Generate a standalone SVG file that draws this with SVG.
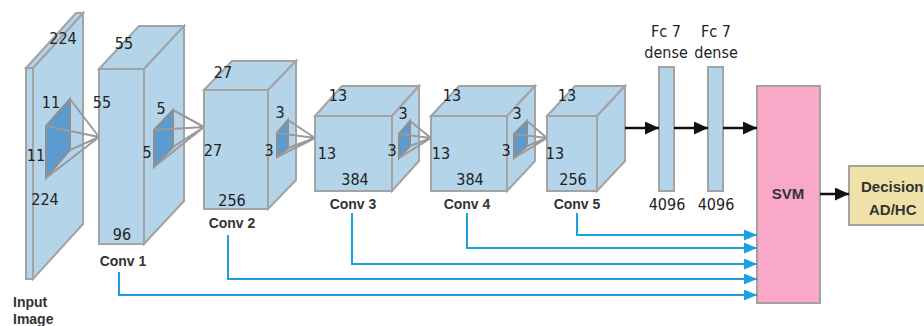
<svg xmlns="http://www.w3.org/2000/svg" width="924" height="326" viewBox="0 0 924 326">
<defs>
<style>
.box{fill:#b4d4ea;stroke:#a3a3a3;stroke-width:2;stroke-linejoin:miter}
.ker{fill:#5b9bd0;stroke:#8e8e8e;stroke-width:2}
.ray{stroke:#9a9a9a;stroke-width:2;fill:none}
.num{font-family:"Liberation Sans Narrow","DejaVu Sans Condensed","Liberation Sans",sans-serif;font-size:16px;fill:#222}
.lbl{font-family:"Liberation Sans",Arial,sans-serif;font-weight:bold;font-size:14px;fill:#333}
.big{font-family:"Liberation Sans",Arial,sans-serif;font-weight:bold;font-size:15px;fill:#333}
.blue{stroke:#1ba1e2;stroke-width:2;fill:none}
.blk{stroke:#111;stroke-width:2.5;fill:none}
</style>
<marker id="ab" markerWidth="13" markerHeight="11" refX="13" refY="5.5" orient="auto" markerUnits="userSpaceOnUse"><path d="M0,0 L13,5.5 L0,11 Z" fill="#1ba1e2"/></marker>
<marker id="ak" markerWidth="14" markerHeight="13" refX="14" refY="6.5" orient="auto" markerUnits="userSpaceOnUse"><path d="M0,0 L14,6.5 L0,13 Z" fill="#111"/></marker>
</defs>
<rect width="924" height="326" fill="#fff"/>

<g id="input">
<polygon class="box" points="33,68 83,13 83,224 33,279"/>
<polygon class="box" points="26,68 76,13 83,13 33,68"/>
<rect class="box" x="26" y="68" width="7" height="211"/>
<polygon class="ker" points="46,126 70,99 70,150 46,178"/>
<path class="ray" d="M70,99 L99,137 M46,126 L99,137 M70,150 L99,137 M46,178 L99,137"/>
<text class="num" x="63" y="44" text-anchor="middle">224</text>
<text class="num" x="51" y="108" text-anchor="middle">11</text>
<text class="num" x="36" y="161" text-anchor="middle">11</text>
<text class="num" x="45" y="205" text-anchor="middle">224</text>
<text class="lbl" x="13" y="307">Input</text>
<text class="lbl" x="13" y="324">Image</text>
</g>

<g id="conv1">
<polygon class="box" points="99,69 139,26 184,26 144,69"/>
<polygon class="box" points="144,69 184,26 184,201 144,244"/>
<rect class="box" x="99" y="69" width="45" height="175"/>
<polygon class="ker" points="154,130 173,110 173,147 154,167"/>
<path class="ray" d="M173,110 L204,127 M154,130 L204,127 M173,147 L204,127 M154,167 L204,127"/>
<text class="num" x="124" y="49" text-anchor="middle">55</text>
<text class="num" x="102" y="108" text-anchor="middle">55</text>
<text class="num" x="161" y="114" text-anchor="middle">5</text>
<text class="num" x="147" y="158" text-anchor="middle">5</text>
<text class="num" x="122" y="240" text-anchor="middle">96</text>
<text class="lbl" x="123" y="266" text-anchor="middle">Conv 1</text>
</g>

<g id="conv2">
<polygon class="box" points="204,90 232,61 296,61 268,90"/>
<polygon class="box" points="268,90 296,61 296,180 268,209"/>
<rect class="box" x="204" y="90" width="64" height="119"/>
<polygon class="ker" points="277,133 288,120 288,148 277,157"/>
<path class="ray" d="M288,120 L315,138 M277,133 L315,138 M288,148 L315,138 M277,157 L315,138"/>
<text class="num" x="223" y="78" text-anchor="middle">27</text>
<text class="num" x="213" y="156" text-anchor="middle">27</text>
<text class="num" x="280" y="118" text-anchor="middle">3</text>
<text class="num" x="269" y="156" text-anchor="middle">3</text>
<text class="num" x="232" y="206" text-anchor="middle">256</text>
<text class="lbl" x="232" y="228" text-anchor="middle">Conv 2</text>
</g>

<g id="conv3">
<polygon class="box" points="315,116 342,86 419,86 392,116"/>
<polygon class="box" points="392,116 419,86 419,161 392,191"/>
<rect class="box" x="315" y="116" width="77" height="75"/>
<polygon class="ker" points="399,134 410,121 410,146 399,158"/>
<path class="ray" d="M410,121 L431,138 M399,134 L431,138 M410,146 L431,138 M399,158 L431,138"/>
<text class="num" x="338" y="101" text-anchor="middle">13</text>
<text class="num" x="327" y="159" text-anchor="middle">13</text>
<text class="num" x="403" y="119" text-anchor="middle">3</text>
<text class="num" x="392" y="156" text-anchor="middle">3</text>
<text class="num" x="355" y="185" text-anchor="middle">384</text>
<text class="lbl" x="353" y="209" text-anchor="middle">Conv 3</text>
</g>

<g id="conv4">
<polygon class="box" points="431,116 459,86 535,86 507,116"/>
<polygon class="box" points="507,116 535,86 535,161 507,191"/>
<rect class="box" x="431" y="116" width="76" height="75"/>
<polygon class="ker" points="514,134 527,121 527,146 514,158"/>
<path class="ray" d="M527,121 L547,138 M514,134 L547,138 M527,146 L547,138 M514,158 L547,138"/>
<text class="num" x="452" y="101" text-anchor="middle">13</text>
<text class="num" x="441" y="159" text-anchor="middle">13</text>
<text class="num" x="517" y="119" text-anchor="middle">3</text>
<text class="num" x="506" y="156" text-anchor="middle">3</text>
<text class="num" x="470" y="185" text-anchor="middle">384</text>
<text class="lbl" x="467" y="209" text-anchor="middle">Conv 4</text>
</g>

<g id="conv5">
<polygon class="box" points="547,116 575,86 625,86 597,116"/>
<polygon class="box" points="597,116 625,86 625,161 597,191"/>
<rect class="box" x="547" y="116" width="50" height="75"/>
<text class="num" x="567" y="101" text-anchor="middle">13</text>
<text class="num" x="555" y="159" text-anchor="middle">13</text>
<text class="num" x="573" y="185" text-anchor="middle">256</text>
<text class="lbl" x="577" y="209" text-anchor="middle">Conv 5</text>
</g>

<g id="fc1">
<rect class="box" x="659" y="67" width="15" height="124"/>
<text class="num" x="666" y="37" text-anchor="middle">Fc 7</text>
<text class="num" x="666" y="58" text-anchor="middle">dense</text>
<text class="num" x="667" y="210" text-anchor="middle">4096</text>
</g>

<g id="fc2">
<rect class="box" x="708" y="67" width="15" height="124"/>
<text class="num" x="716" y="37" text-anchor="middle">Fc 7</text>
<text class="num" x="716" y="58" text-anchor="middle">dense</text>
<text class="num" x="716" y="210" text-anchor="middle">4096</text>
</g>

<g id="svm">
<rect x="757" y="86" width="63" height="217" fill="#f9a8c8" stroke="#a3a3a3" stroke-width="2"/>
<text class="big" x="788" y="199" text-anchor="middle" fill="#222">SVM</text>
</g>

<g id="decision">
<rect x="849" y="166" width="90" height="59" fill="#efe2a9" stroke="#a3a3a3" stroke-width="2"/>
<text class="big" x="861" y="192">Decision</text>
<text class="big" x="869" y="215">AD/HC</text>
</g>

<g id="connectors">
<line class="blk" x1="625" y1="128" x2="659" y2="128" marker-end="url(#ak)"/>
<line class="blk" x1="674" y1="128" x2="708" y2="128" marker-end="url(#ak)"/>
<line class="blk" x1="723" y1="128" x2="757" y2="128" marker-end="url(#ak)"/>
<line class="blk" x1="820" y1="194" x2="849" y2="194" marker-end="url(#ak)"/>
<polyline class="blue" points="577,213 577,235 757,235" marker-end="url(#ab)"/>
<polyline class="blue" points="467,213 467,248 757,248" marker-end="url(#ab)"/>
<polyline class="blue" points="352,213 352,264 757,264" marker-end="url(#ab)"/>
<polyline class="blue" points="228,235 228,279 757,279" marker-end="url(#ab)"/>
<polyline class="blue" points="119,272 119,295 757,295" marker-end="url(#ab)"/>
</g>
</svg>
